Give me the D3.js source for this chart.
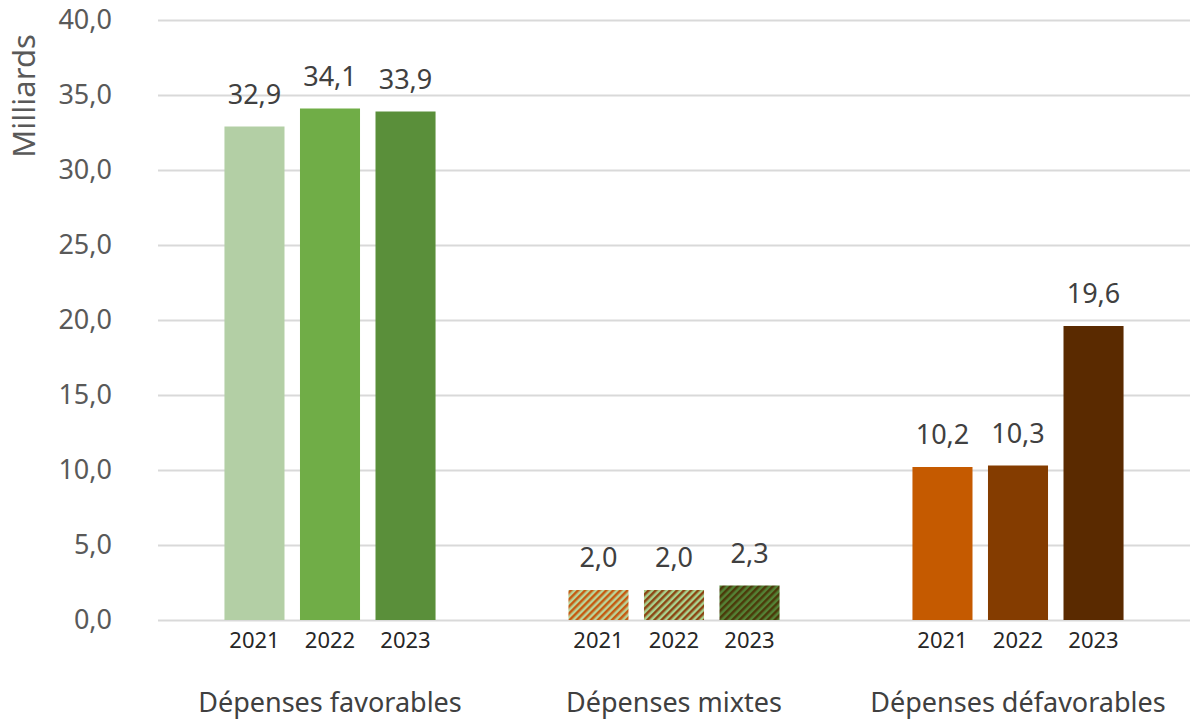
<!DOCTYPE html>
<html>
<head>
<meta charset="utf-8">
<script src="https://cdn.jsdelivr.net/npm/d3@7"></script>
<style>
  html, body { margin: 0; padding: 0; background: #fff; }
  svg { display: block; }
  text { font-family: "Noto Sans", "Open Sans", sans-serif; }
</style>
</head>
<body>
<svg id="chart" width="1193" height="722"></svg>
<script>
// Categories and series
const categories = ["Dépenses favorables", "Dépenses mixtes", "Dépenses défavorables"];
const years = ["2021", "2022", "2023"];
const favorables = [32.9, 34.1, 33.9];
const mixtes = [2.0, 2.0, 2.3];
const defavorables = [10.2, 10.3, 19.6];
const yTicks = [0, 5, 10, 15, 20, 25, 30, 35, 40];
const yLabel = "Milliards";

const seriesByCategory = [favorables, mixtes, defavorables];

const W = 1193, H = 722;
const margin = { left: 158, right: 3, top: 20, bottom: 102 };

const svg = d3.select("#chart");

// Fill styles: plain colours for favourable / unfavourable, stripes for mixed
const fills = [
  ["#b3cfa5", "#70ad47", "#5a8f3a"],
  ["url(#hatch0)", "url(#hatch1)", "url(#hatch2)"],
  ["#c55a00", "#843c00", "#5a2a00"]
];

const hatchDefs = [
  { fg: "#c55a11", bg: "#b9d49a" },
  { fg: "#8b4513", bg: "#a9d18e" },
  { fg: "#4a3a0a", bg: "#548235" }
];
const defs = svg.append("defs");
hatchDefs.forEach((h, i) => {
  const p = defs.append("pattern")
    .attr("id", "hatch" + i)
    .attr("patternUnits", "userSpaceOnUse")
    .attr("width", 5).attr("height", 5)
    .attr("patternTransform", "rotate(45)");
  p.append("rect").attr("width", 5).attr("height", 5).attr("fill", h.bg);
  p.append("rect").attr("width", 2.5).attr("height", 5).attr("fill", h.fg);
});

const x0 = d3.scaleBand()
  .domain(categories)
  .range([margin.left, W - margin.right])
  .paddingInner(0).paddingOuter(0);

const x1 = d3.scaleBand()
  .domain(years)
  .range([0, x0.bandwidth()])
  .paddingInner(0.205)
  .paddingOuter(0.88);

const y = d3.scaleLinear()
  .domain([0, 40])
  .range([H - margin.bottom, margin.top]);

// Gridlines and tick labels
const yAxis = d3.axisLeft(y)
  .tickValues(yTicks)
  .tickSize(-(W - margin.right - margin.left))
  .tickPadding(46)
  .tickFormat(d => d3.format(".1f")(d).replace(".", ","));

const gy = svg.append("g")
  .attr("transform", `translate(${margin.left},0)`)
  .call(yAxis);
gy.select(".domain").remove();
gy.selectAll(".tick line").attr("stroke", "#d9d9d9").attr("stroke-width", 2);
gy.selectAll(".tick text")
  .attr("fill", "#595959")
  .style("font-size", "27px");

// Y axis title
svg.append("text")
  .attr("transform", `translate(35, 96) rotate(-90)`)
  .attr("text-anchor", "middle")
  .attr("fill", "#595959")
  .style("font-size", "31px")
  .text(yLabel);

// Bars
const groups = svg.selectAll("g.cat")
  .data(categories)
  .join("g")
  .attr("class", "cat")
  .attr("transform", d => `translate(${x0(d)},0)`);

groups.each(function(cat, ci) {
  const g = d3.select(this);
  const vals = seriesByCategory[ci].map((v, i) => ({ year: years[i], value: v, i }));

  g.selectAll("rect")
    .data(vals)
    .join("rect")
    .attr("x", d => x1(d.year))
    .attr("width", x1.bandwidth())
    .attr("y", d => y(d.value))
    .attr("height", d => y(0) - y(d.value))
    .attr("fill", d => fills[ci][d.i]);

  g.selectAll("text.val")
    .data(vals)
    .join("text")
    .attr("class", "val")
    .attr("x", d => x1(d.year) + x1.bandwidth() / 2)
    .attr("y", d => y(d.value) - 23)
    .attr("text-anchor", "middle")
    .attr("fill", "#404040")
    .style("font-size", "27px")
    .text(d => d3.format(".1f")(d.value).replace(".", ","));

  g.selectAll("text.yr")
    .data(vals)
    .join("text")
    .attr("class", "yr")
    .attr("x", d => x1(d.year) + x1.bandwidth() / 2)
    .attr("y", y(0) + 28)
    .attr("text-anchor", "middle")
    .attr("fill", "#262626")
    .style("font-size", "22px")
    .text(d => d.year);

  g.append("text")
    .attr("x", x0.bandwidth() / 2)
    .attr("y", y(0) + 92)
    .attr("text-anchor", "middle")
    .attr("fill", "#404040")
    .style("font-size", "27px")
    .text(cat);
});
</script>
</body>
</html>
